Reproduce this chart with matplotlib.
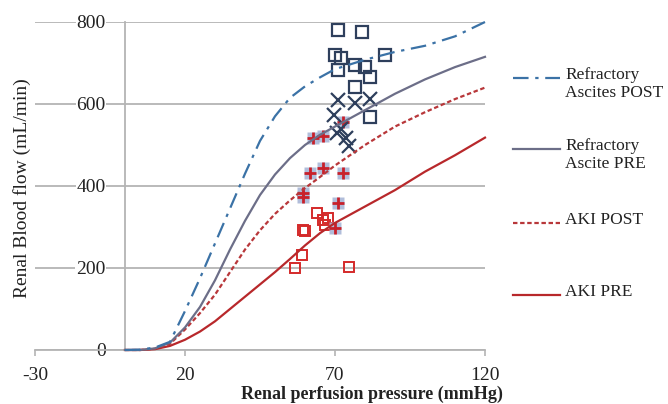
"""Renal blood flow vs renal perfusion pressure, with patient scatter."""

import matplotlib
matplotlib.use("Agg")
import matplotlib.pyplot as plt
from matplotlib.lines import Line2D

plt.rcParams["font.family"] = ["Liberation Serif", "DejaVu Serif"]
plt.rcParams["axes.unicode_minus"] = False

# Model curves (pressure in mmHg, flow in mL/min)
pressure = [0, 5, 10, 15, 20, 25, 30, 35, 40, 45, 50, 55, 60, 65, 70, 80, 90, 100, 110, 120]
ascites_post = [0, 1, 6, 20, 95, 175, 260, 345, 430, 510, 570, 615, 643, 665, 685, 708, 727, 742, 765, 800]
ascites_pre = [0, 0, 4, 18, 55, 105, 170, 245, 315, 378, 428, 468, 500, 525, 545, 585, 625, 660, 690, 715]
aki_post = [0, 0, 3, 15, 50, 90, 135, 190, 245, 292, 332, 365, 395, 422, 450, 500, 545, 580, 612, 640]
aki_pre = [0, 0, 2, 10, 25, 45, 70, 100, 130, 160, 190, 222, 255, 285, 310, 350, 390, 435, 475, 518]

# Patient measurements
ascites_post_x = [71, 79, 70, 72, 86.7, 71, 76.5, 80, 81.7, 76.7, 81.7]
ascites_post_y = [780, 776, 720, 712, 720, 683, 695, 690, 666, 641, 568]
ascites_pre_x = [71, 76.5, 81.5, 69.5, 72, 70.5, 73.5, 74.5]
ascites_pre_y = [610, 602, 612, 572, 540, 530, 518, 497]
aki_post_x = [62.7, 66, 72.7, 61.7, 66, 72.7, 59.3, 59.3, 71, 70]
aki_post_y = [517, 522, 556, 432, 444, 432, 383, 373, 358, 298]
aki_pre_x = [64, 66, 67.7, 66.7, 59.3, 60, 59, 56.7, 74.7]
aki_pre_y = [334, 317, 322, 305, 292, 290, 232, 200, 202]

x_ticks = [-30, 20, 70, 120]
y_ticks = [0, 200, 400, 600, 800]

legend_labels = ["Refractory\nAscites POST", "Refractory\nAscite PRE", "AKI POST", "AKI PRE"]

c_blue = "#3b72a6"
c_gray = "#6c6e88"
c_red_dash = "#b8373a"
c_red = "#b8282b"
c_navy = "#2e3f5c"
c_sq_red = "#d42a2a"
grid_c = "#b4b4b4"

fig = plt.figure(figsize=(6.68, 4.04), dpi=100)
ax = fig.add_axes([35 / 668, 54 / 404, 450 / 668, 328 / 404])
ax.set_xlim(-30, 120)
ax.set_ylim(0, 800)

# axes styling
for s in ("top", "right"):
    ax.spines[s].set_visible(False)
ax.spines["left"].set_position(("data", 0))
ax.spines["left"].set_color(grid_c)
ax.spines["bottom"].set_color(grid_c)
ax.spines["left"].set_linewidth(1.3)
ax.spines["bottom"].set_linewidth(1.3)
ax.set_xticks(x_ticks)
ax.set_yticks(y_ticks)
ax.yaxis.grid(True, color=grid_c, lw=1.3)
ax.set_axisbelow(True)
ax.tick_params(axis="y", length=0, pad=14, labelsize=14, labelcolor="#222222")
ax.tick_params(axis="x", length=4, width=1.2, color=grid_c, pad=8,
               labelsize=14, labelcolor="#222222")
for lab in ax.get_yticklabels():
    lab.set_bbox(dict(facecolor="white", edgecolor="none", pad=0.5))

# scatter markers
ax.plot(aki_pre_x, aki_pre_y, ls="none", marker="s", ms=7, mfc="none",
        mec=c_sq_red, mew=1.4, zorder=3)
ax.plot(aki_post_x, aki_post_y, ls="none", marker="s", ms=8.5, mfc="#a9b6d6",
        mec="none", alpha=0.9, zorder=3)
ax.plot(aki_post_x, aki_post_y, ls="none", marker="+", ms=9, mec="#c8202a",
        mew=2, zorder=3)
ax.plot(ascites_pre_x, ascites_pre_y, ls="none", marker="x", ms=9.5, mec=c_navy,
        mew=1.6, zorder=3)
ax.plot(ascites_post_x, ascites_post_y, ls="none", marker="s", ms=8.5, mfc="none",
        mec=c_navy, mew=1.6, zorder=3, clip_on=False)

# model curves
ax.plot(pressure, aki_pre, color=c_red, lw=1.6, zorder=4, clip_on=False)
ax.plot(pressure, aki_post, color=c_red_dash, lw=1.6, ls=(0, (2, 1.2)), zorder=4,
        clip_on=False)
ax.plot(pressure, ascites_pre, color=c_gray, lw=1.6, zorder=4, clip_on=False)
ax.plot(pressure, ascites_post, color=c_blue, lw=1.6, ls=(0, (7, 3, 1.5, 3)),
        zorder=4, clip_on=False)

# axis labels
fig.text(372 / 668, 1 - 394 / 404, "Renal perfusion pressure (mmHg)",
         ha="center", va="center", fontsize=13, fontweight="bold", color="#222222")
fig.text(22 / 668, 1 - 188 / 404, "Renal Blood flow (mL/min)", rotation=90,
         ha="center", va="center", fontsize=14, color="#222222")

# legend, drawn by hand so the key sits on the first text line
styles = [
    dict(color=c_blue, ls=(0, (7, 3, 1.5, 3))),
    dict(color=c_gray, ls="-"),
    dict(color=c_red_dash, ls=(0, (2, 1.2))),
    dict(color=c_red, ls="-"),
]
key_y = [78, 149, 223, 295]
for label, st, yy in zip(legend_labels, styles, key_y):
    yf = 1 - yy / 404
    fig.add_artist(Line2D([513 / 668, 560 / 668], [yf, yf], lw=1.6,
                          transform=fig.transFigure, **st))
    fig.text(565 / 668, yf + 11 / 404, label, ha="left", va="top",
             fontsize=12.5, color="#222222", linespacing=1.2)

fig.savefig("out.png", dpi=100)
